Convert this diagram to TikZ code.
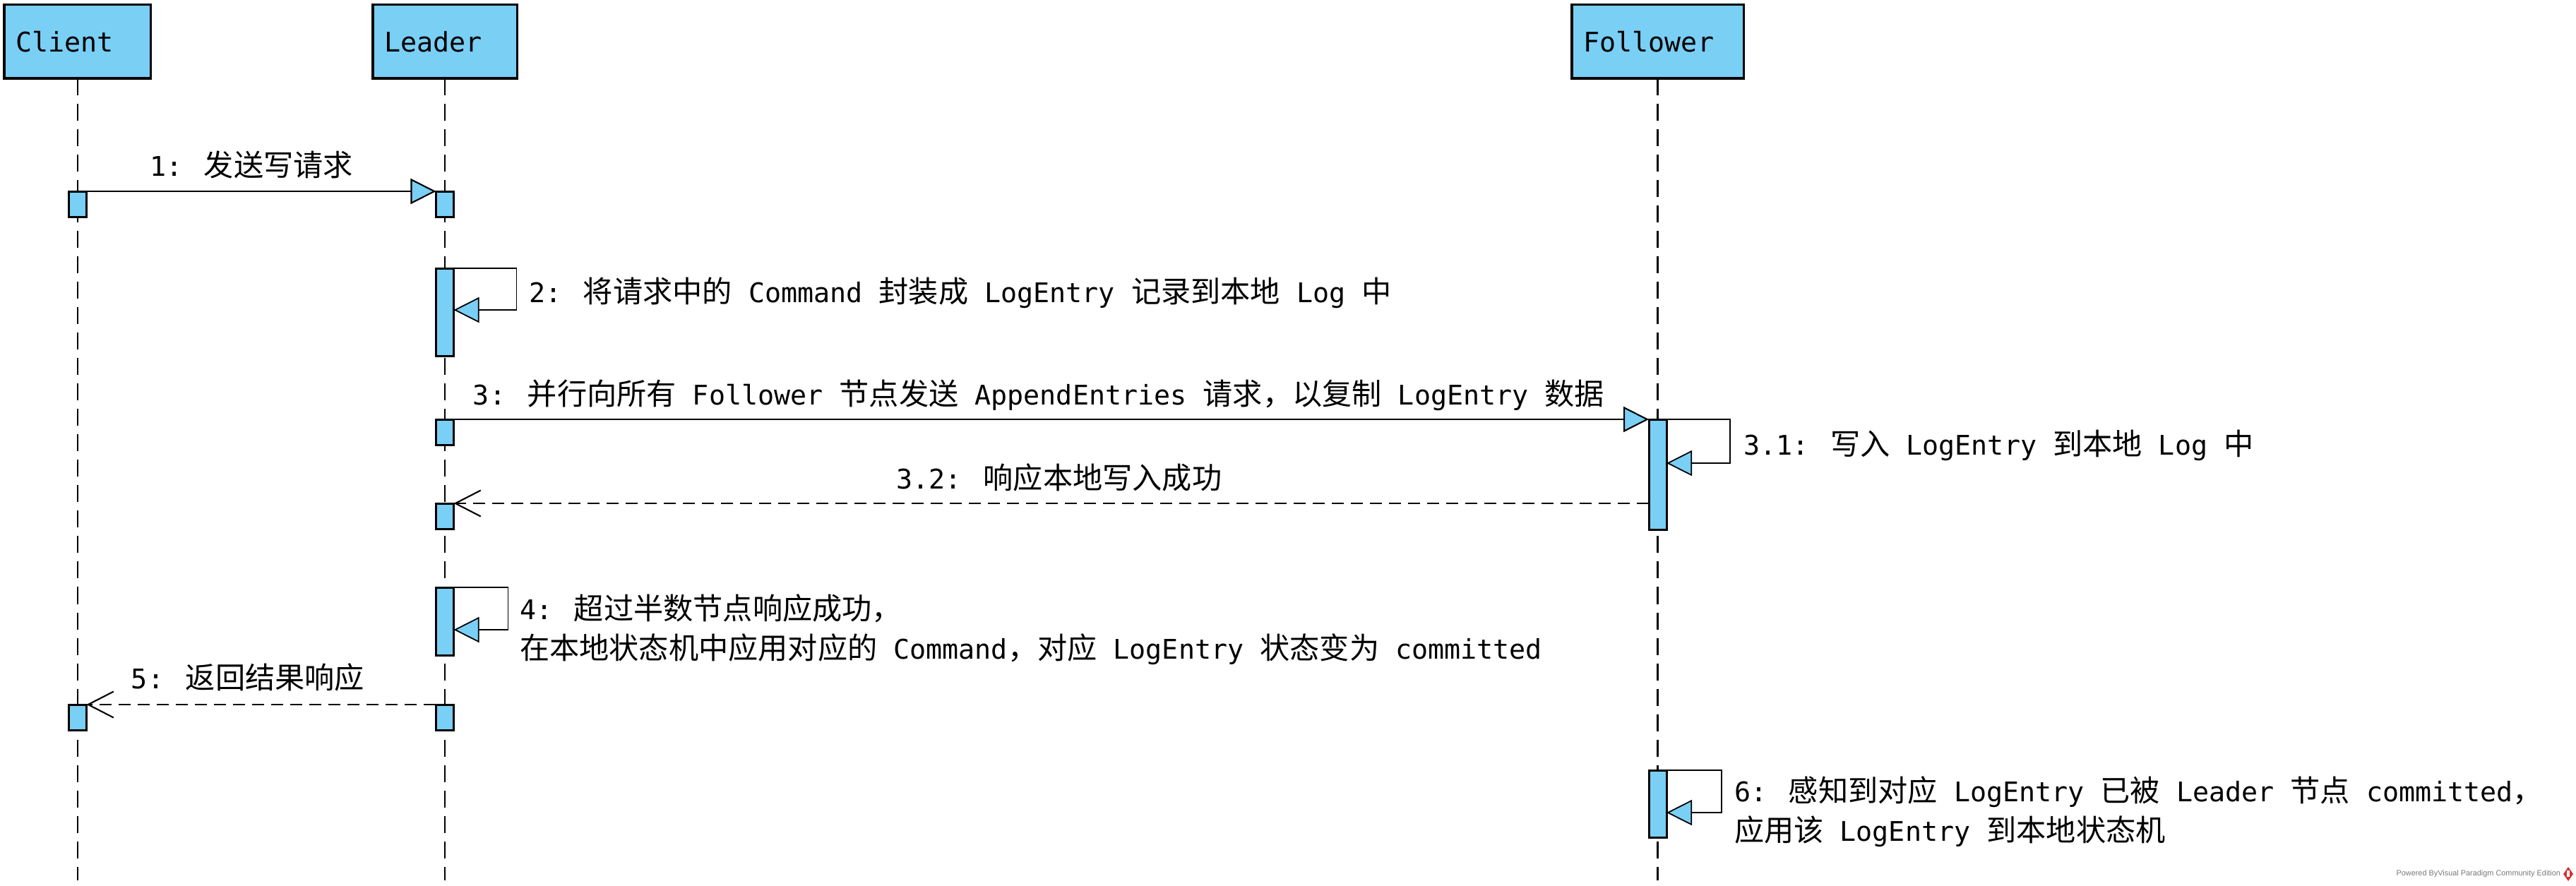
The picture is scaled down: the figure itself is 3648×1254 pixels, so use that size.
\documentclass[tikz,border=0pt]{standalone}
\usepackage{fontspec}
\newfontfamily\monof{DejaVu Sans Mono}
\newfontfamily\cjk[Scale=1.101]{Noto Sans CJK SC}
\newfontfamily\wmfont{Liberation Sans}
\usetikzlibrary{arrows.meta}
\definecolor{vpblue}{RGB}{122,207,245}
\definecolor{wmgray}{RGB}{120,120,120}
\definecolor{vpred}{RGB}{214,48,48}
\newcommand\zh[1]{{\cjk #1}}
\begin{document}
\begin{tikzpicture}[x=0.01cm,y=-0.01cm,
  every node/.style={inner sep=0pt, outer sep=0pt},
  lbl/.style={font=\monof\fontsize{10.9}{15.9}\selectfont, align=left},
  actor/.style={draw, fill=vpblue, line width=0.9pt, anchor=north west,
    minimum height=1.046cm, inner xsep=0.165cm, text width=#1, align=left,
    font=\monof\fontsize{10.9}{13}\selectfont},
  act/.style={draw, fill=vpblue, line width=0.85pt, minimum width=0.25cm, anchor=north},
  lifeline/.style={line width=0.75pt, dash pattern=on 0.24cm off 0.12cm},
  syncmsg/.style={line width=0.6pt, -{Triangle[length=0.36cm,width=0.36cm,fill=vpblue]}},
  selfmsg/.style={line width=0.5pt, -{Triangle[length=0.36cm,width=0.36cm,fill=vpblue]}},
  replymsg/.style={line width=0.6pt, dash pattern=on 0.17cm off 0.1cm,
    -{Straight Barb[length=0.36cm,width=0.37cm]}},
]
\useasboundingbox (0,0) rectangle (3648,1254);

% actors
\node[actor=1.747cm] (client) at (6,6.4) {Client};
\node[actor=1.71cm] (leader) at (528,6.4) {Leader};
\node[actor=2.1cm] (follower) at (2226,6.4) {Follower};

% lifelines
\coordinate (lend) at (0,1247);
\draw[lifeline] (client.south) -- (client.south |- lend);
\draw[lifeline] (leader.south) -- (leader.south |- lend);
\draw[lifeline] (follower.south) -- (follower.south |- lend);

% activations
\node[act, minimum height=0.36cm] (a1c) at (110,271) {};
\node[act, minimum height=0.36cm] (a1l) at (630,271) {};
\node[act, minimum height=1.24cm] (a2l) at (630,380) {};
\node[act, minimum height=0.36cm] (a3l) at (630,594) {};
\node[act, minimum height=1.56cm] (a3f) at (2347.5,594) {};
\node[act, minimum height=0.36cm] (a32l) at (630,713) {};
\node[act, minimum height=0.96cm] (a4l) at (630,832) {};
\node[act, minimum height=0.36cm] (a5c) at (110,998) {};
\node[act, minimum height=0.36cm] (a5l) at (630,998) {};
\node[act, minimum height=0.95cm] (a6f) at (2347.5,1091) {};

% messages
\draw[syncmsg] (a1c.north east) -- (a1l.north west);
\draw[selfmsg] (a2l.north east) -- ++(89,0) |- ([yshift=-0.59cm]a2l.north east);
\draw[syncmsg] (a3l.north east) -- (a3f.north west);
\draw[selfmsg] (a3f.north east) -- ++(90,0) |- ([yshift=-0.62cm]a3f.north east);
\draw[replymsg] (a3f.west |- a32l.north) -- (a32l.north east);
\draw[selfmsg] (a4l.north east) -- ++(77,0) |- ([yshift=-0.6cm]a4l.north east);
\draw[replymsg] (a5l.north west) -- (a5c.north east);
\draw[selfmsg] (a6f.north east) -- ++(78,0) |- ([yshift=-0.6cm]a6f.north east);

% labels
\node[lbl, anchor=base] (l1) at (356,249) {1: \zh{发送写请求}};
\node[lbl, anchor=base west] (l2) at (749,428) {2: \zh{将请求中的} Command \zh{封装成} LogEntry \zh{记录到本地} Log \zh{中}};
\node[lbl, anchor=base] (l3) at (1471,573) {3: \zh{并行向所有} Follower \zh{节点发送} AppendEntries \zh{请求，以复制} LogEntry \zh{数据}};
\node[lbl, anchor=base west] (l31) at (2469,644) {3.1: \zh{写入} LogEntry \zh{到本地} Log \zh{中}};
\node[lbl, anchor=base] (l32) at (1500,692) {3.2: \zh{响应本地写入成功}};
\node[lbl, anchor=west] (l4) at (736,892) {4: \zh{超过半数节点响应成功，}\\\zh{在本地状态机中应用对应的} Command\zh{，对应} LogEntry \zh{状态变为} committed};
\node[lbl, anchor=base] (l5) at (351,975) {5: \zh{返回结果响应}};
\node[lbl, anchor=west] (l6) at (2456,1150) {6: \zh{感知到对应} LogEntry \zh{已被} Leader \zh{节点} committed\zh{，}\\\zh{应用该} LogEntry \zh{到本地状态机}};

% watermark
\node[font=\wmfont\fontsize{3.1}{4}\selectfont, text=wmgray, anchor=east] (wm) at (3626,1238) {Powered ByVisual Paradigm Community Edition};
\fill[vpred] (3637,1228) -- (3644,1238) -- (3637,1248) -- (3630,1238) -- cycle;
\fill[white] (3635,1233) rectangle (3639,1242);
\end{tikzpicture}
\end{document}
